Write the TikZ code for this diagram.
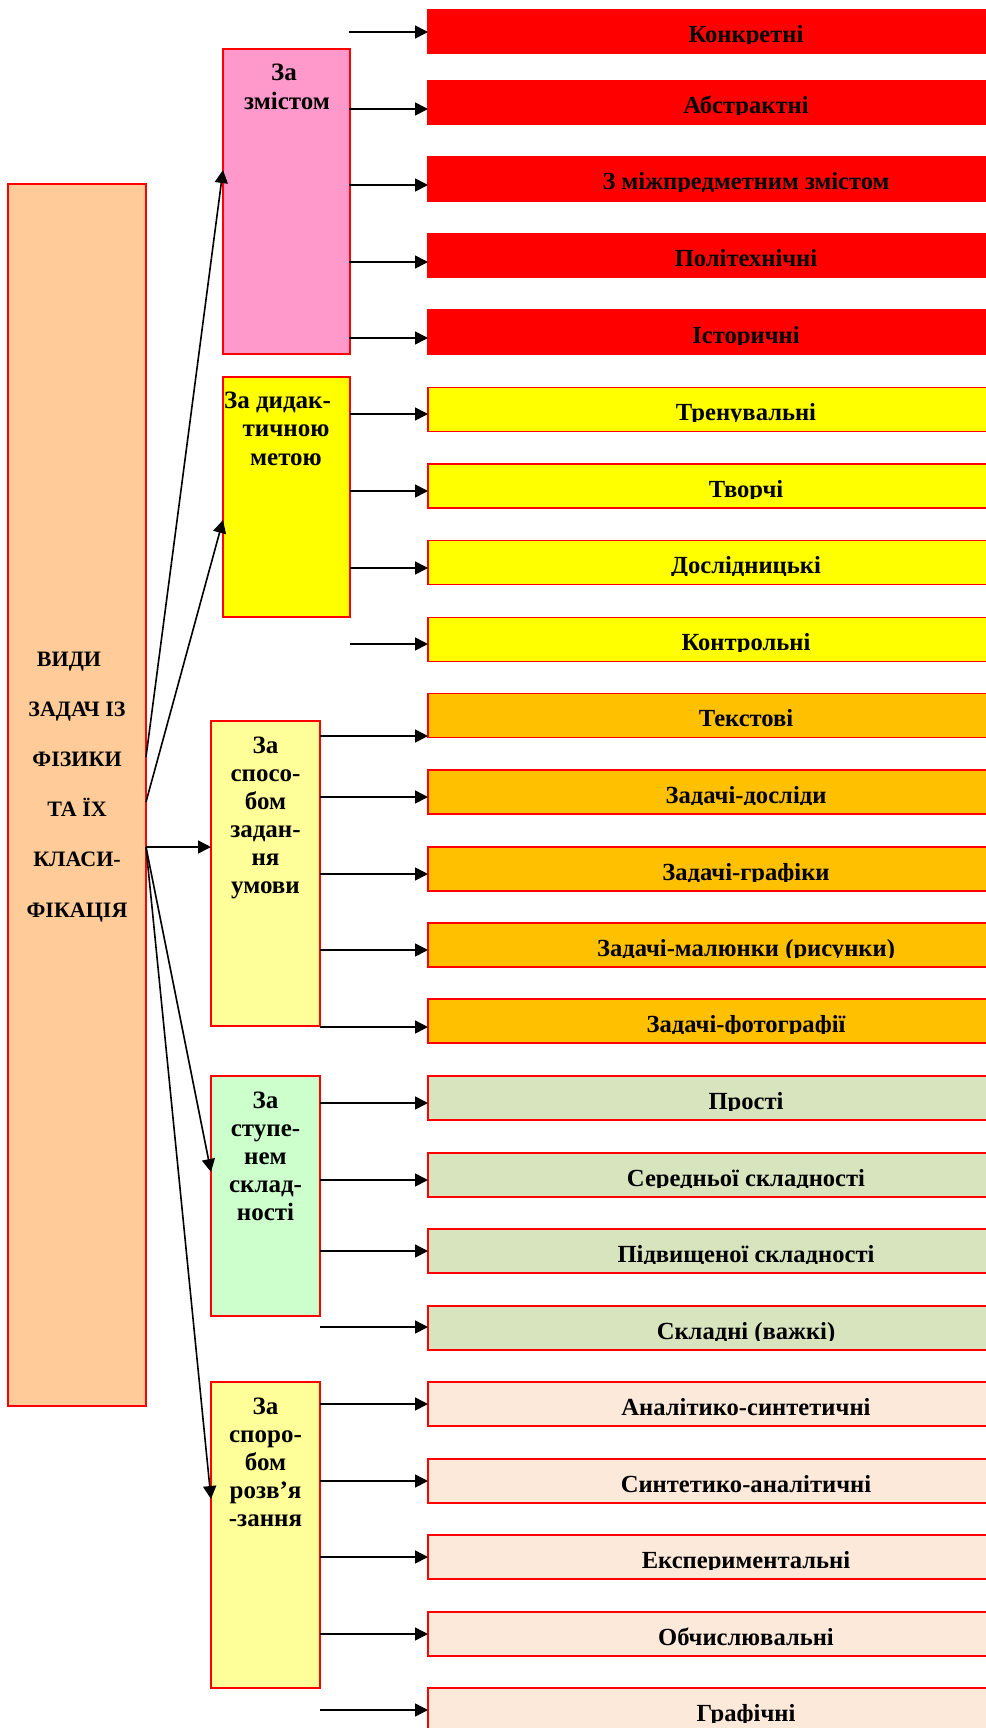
\documentclass[tikz,border=0pt]{standalone}
\usepackage{fontspec}
\setmainfont{Liberation Serif}
\usetikzlibrary{arrows.meta}
\definecolor{mainc}{HTML}{FFCC99}
\definecolor{pinkc}{HTML}{FF99CC}
\definecolor{ylwc}{HTML}{FFFF00}
\definecolor{lylw}{HTML}{FFFF99}
\definecolor{lgrn}{HTML}{CCFFCC}
\definecolor{redc}{HTML}{FF0000}
\definecolor{orgc}{HTML}{FFC000}
\definecolor{olvc}{HTML}{D7E4BD}
\definecolor{pchc}{HTML}{FDE9D9}
\tikzset{
  bx/.style={draw=redc, line width=1.3pt, inner sep=0pt, outer sep=0pt, anchor=north west},
  rbox/.style={bx, minimum width=562pt, minimum height=44pt},
  rtext/.style={anchor=base, inner sep=0pt, font=\fontsize{24.6}{28.5}\selectfont\bfseries},
  stext/.style={anchor=base, inner sep=0pt, align=center, font=\fontsize{25}{28.5}\selectfont\bfseries},
  arr/.style={-{Triangle[length=13pt,width=13pt]}, line width=1.6pt, black},
}
% name, top, fill, arrow offset, text
\newcommand\rbx[5]{%
  \node[rbox,fill=#3] (#1) at (428,#2) {};
  \coordinate (#1a) at ([yshift=-#4pt]#1.north west);
  \begin{scope}
    \clip (#1.north west) rectangle ([xshift=562pt,yshift=-34.5pt]#1.north west);
    \node[rtext] (#1t) at ([xshift=318pt,yshift=-33pt]#1.north west) {#5};
  \end{scope}}
\begin{document}
\begin{tikzpicture}[x=1pt,y=-1pt]
\useasboundingbox[fill=white] (0,0) rectangle (985,1728);

% main box
\node[bx, fill=mainc, minimum width=138pt, minimum height=1222pt] (main) at (8,184) {};
\node[stext, font=\fontsize{22}{50.2}\selectfont\bfseries] (maint) at (77,917)
  {ВИДИ\hspace*{16pt}\\ЗАДАЧ ІЗ\\ФІЗИКИ\\ТА ЇХ\\КЛАСИ-\\ФІКАЦІЯ};

% category boxes
\node[bx, fill=pinkc, minimum width=127pt, minimum height=305pt] (zm) at (223,49) {};
\node[stext, font=\fontsize{25}{29}\selectfont\bfseries] (zmt) at (287,110) {За\hspace*{6pt}\\змістом};
\node[bx, fill=ylwc, minimum width=127pt, minimum height=240pt] (dm) at (223,377) {};
\node[stext] (dmt) at (286,465) {За дидак-\hspace*{17pt}\\тичною\\метою};
\node[bx, fill=lylw, minimum width=109pt, minimum height=305pt] (sp) at (211,721) {};
\node[stext, font=\fontsize{25}{28}\selectfont\bfseries] (spt) at (265.5,893) {За\\спосо-\\бом\\задан-\\ня\\умови};
\node[bx, fill=lgrn, minimum width=109pt, minimum height=240pt] (st) at (211,1076) {};
\node[stext, font=\fontsize{25}{28}\selectfont\bfseries] (stt) at (265.5,1220) {За\\ступе-\\нем\\склад-\\ності};
\node[bx, fill=lylw, minimum width=109pt, minimum height=306pt] (sr) at (211,1382) {};
\node[stext, font=\fontsize{25}{28}\selectfont\bfseries] (srt) at (265.5,1526) {За\\споро-\\бом\\розв’я\\-зання};

% right boxes
\rbx{a1}{9.3}{redc}{22.7}{Конкретні}
\rbx{a2}{80.3}{redc}{28.7}{Абстрактні}
\rbx{a3}{157}{redc}{28}{З міжпредметним змістом}
\rbx{a4}{233.7}{redc}{28.3}{Політехнічні}
\rbx{a5}{310}{redc}{28}{Історичні}

\rbx{b1}{387.3}{ylwc}{26.7}{Тренувальні}
\rbx{b2}{464}{ylwc}{27}{Творчі}
\rbx{b3}{540.7}{ylwc}{27.3}{Дослідницькі}
\rbx{b4}{617.3}{ylwc}{26.7}{Контрольні}

\rbx{c1}{693.3}{orgc}{42.7}{Текстові}
\rbx{c2}{770}{orgc}{27}{Задачі-досліди}
\rbx{c3}{847}{orgc}{27}{Задачі-графіки}
\rbx{c4}{923}{orgc}{27}{Задачі-малюнки (рисунки)}
\rbx{c5}{999}{orgc}{28}{Задачі-фотографії}

\rbx{d1}{1076}{olvc}{27}{Прості}
\rbx{d2}{1153}{olvc}{27}{Середньої складності}
\rbx{d3}{1229}{olvc}{22}{Підвищеної складності}
\rbx{d4}{1306}{olvc}{21}{Складні (важкі)}

\rbx{e1}{1382}{pchc}{22}{Аналітико-синтетичні}
\rbx{e2}{1459}{pchc}{22}{Синтетико-аналітичні}
\rbx{e3}{1535}{pchc}{22}{Експериментальні}
\rbx{e4}{1612}{pchc}{22}{Обчислювальні}
\rbx{e5}{1688}{pchc}{22}{Графічні}

% arrows from categories to items
\foreach \i in {1,...,5} {\draw[arr] ([xshift=-1pt]zm.east |- a\i a) -- (a\i a);}
\foreach \i in {1,...,4} {\draw[arr] (dm.east |- b\i a) -- (b\i a);}
\foreach \i in {1,...,5} {\draw[arr] (sp.east |- c\i a) -- (c\i a);}
\foreach \i in {1,...,4} {\draw[arr] (st.east |- d\i a) -- (d\i a);}
\foreach \i in {1,...,5} {\draw[arr] (sr.east |- e\i a) -- (e\i a);}

% arrows from main box
\draw[arr] ([yshift=-573pt]main.north east) -- ([yshift=-121pt]zm.north west);
\draw[arr] ([yshift=-618pt]main.north east) -- ([yshift=-143pt]dm.north west);
\draw[arr] ([yshift=-663pt]main.north east) -- ([yshift=-126pt]sp.north west);
\draw[arr] ([yshift=-663pt]main.north east) -- ([yshift=-96pt]st.north west);
\draw[arr] ([yshift=-663pt]main.north east) -- ([yshift=-117pt]sr.north west);
\end{tikzpicture}
\end{document}
